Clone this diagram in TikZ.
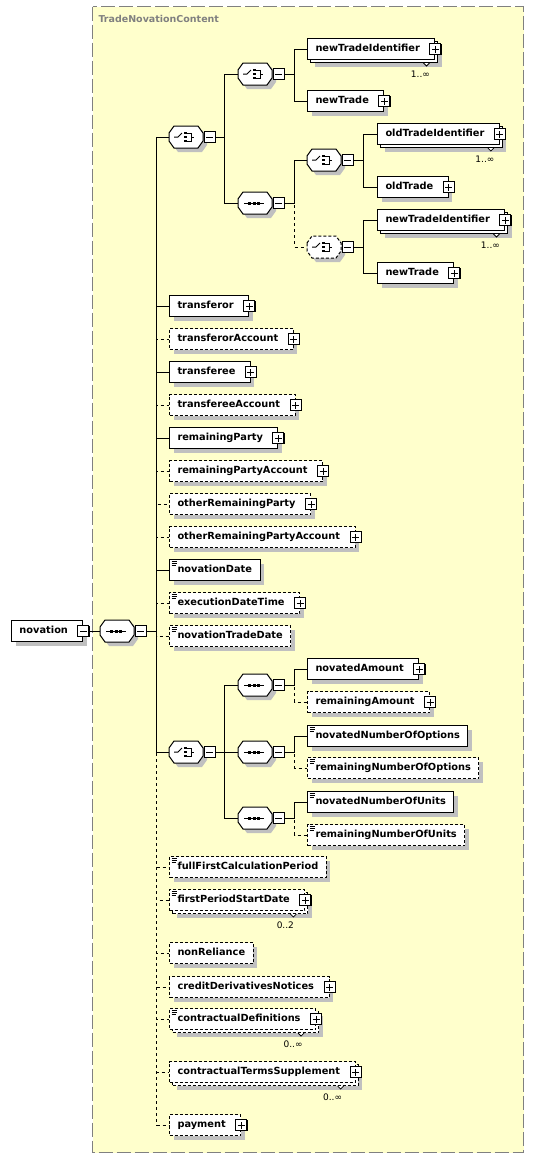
\documentclass[tikz,border=0pt]{standalone}
\usepackage{fontspec}
\setmainfont{DejaVu Sans}
\usepackage{tikz}
\usetikzlibrary{shadows}
\definecolor{schemayellow}{RGB}{255,255,204}
\definecolor{shadowgray}{RGB}{192,192,192}
\definecolor{framegray}{RGB}{128,128,128}

\tikzset{
  elbase/.style={draw, fill=white, anchor=west, minimum height=21pt, inner xsep=8pt, inner ysep=0pt,
    text height=7.5pt, text depth=2pt, font=\bfseries\fontsize{9.8}{12}\selectfont},
  el/.style={elbase, drop shadow={shadow xshift=4pt, shadow yshift=-4pt, fill=shadowgray, opacity=1}},
  multi/.style={elbase, drop shadow={shadow xshift=7pt, shadow yshift=-7pt, fill=shadowgray, opacity=1},
    copy shadow={shadow xshift=3pt, shadow yshift=-3pt, fill=white, draw=black}},
  opt/.style={dash pattern=on 3pt off 2pt},
  simple/.style={path picture={
    \draw[solid, line width=0.6pt] ([xshift=2pt,yshift=-2pt]path picture bounding box.north west) -- ++(5pt,0pt)
      ([xshift=2pt,yshift=-3.8pt]path picture bounding box.north west) -- ++(5pt,0pt)
      ([xshift=2pt,yshift=-5.6pt]path picture bounding box.north west) -- ++(4pt,0pt);}},
  pbox/.style={draw, fill=white, solid, minimum size=11pt, inner sep=0pt,
    drop shadow={shadow xshift=0.8pt, shadow yshift=-0.8pt, fill=black, opacity=1}},
  plus/.style={pbox, path picture={
    \draw[line width=1pt] ([xshift=2pt]path picture bounding box.west) -- ([xshift=-2pt]path picture bounding box.east)
      ([yshift=2pt]path picture bounding box.south) -- ([yshift=-2pt]path picture bounding box.north);}},
  minus/.style={pbox, path picture={
    \draw[line width=1pt] ([xshift=2pt]path picture bounding box.west) -- ([xshift=-2pt]path picture bounding box.east);}},
  compbox/.style={minimum width=34pt, minimum height=22pt, inner sep=0pt},
  seqicon/.style={path picture={
    \coordinate (pp) at (path picture bounding box.center);
    \draw[line width=1pt] ([xshift=-11pt]pp) -- ([xshift=9pt]pp);
    \foreach \d in {-5.5,-1,3.5} \fill ([xshift=\d pt-1.5pt,yshift=-1.5pt]pp) rectangle ([xshift=\d pt+1.5pt,yshift=1.5pt]pp);}},
  choiceicon/.style={path picture={
    \coordinate (pp) at (path picture bounding box.center);
    \draw[line width=1pt] ([xshift=-12pt]pp) -- ([xshift=-8pt]pp) -- ([xshift=-4pt,yshift=4pt]pp);
    \foreach \d in {-4,0,4} \fill ([xshift=-2.5pt,yshift=\d pt-1.4pt]pp) rectangle ([xshift=0.5pt,yshift=\d pt+1.4pt]pp);
    \draw[line width=1pt] ([xshift=0.5pt,yshift=4pt]pp) -- ([xshift=5pt,yshift=4pt]pp)
      -- ([xshift=5pt,yshift=-4pt]pp) -- ([xshift=0.5pt,yshift=-4pt]pp) ([xshift=5pt]pp) -- ([xshift=8pt]pp);}},
  mult/.style={font=\fontsize{9}{10}\selectfont, inner sep=0pt},
  optline/.style={dash pattern=on 3pt off 3pt},
  ttl/.style={text=framegray, font=\bfseries\fontsize{9.5}{11}\selectfont, anchor=base west, inner sep=0pt}
}
\newcommand{\gap}{\hspace{7pt}\mbox{}}
\newcommand{\plusbox}[1]{\node[plus] (#1-p) at (#1.east) {};}
\newcommand{\notch}[2]{\draw[fill=white, solid, line width=0.8pt] ([xshift=#2, yshift=-3pt]#1.south east) -- ++(3pt,-3pt) -- ++(3pt,3pt);}
\newcommand{\octpath}[2]{(#1-17,#2-4) -- (#1-12,#2-11) -- (#1+12,#2-11) -- (#1+17,#2-4)
  -- (#1+17,#2+4) -- (#1+12,#2+11) -- (#1-12,#2+11) -- (#1-17,#2+4) -- cycle}
% compositor: octagon, icon node and its minus box
\newcommand{\compositor}[5][]{%
  \fill[shadowgray, shift={(4,4)}] \octpath{#3}{#4};
  \draw[fill=white, #1] \octpath{#3}{#4};
  \node[compbox, #5] (#2) at (#3,#4) {};
  \node[minus, anchor=west] (#2-m) at (#2.east) {};}

\begin{document}
\begin{tikzpicture}[x=1pt, y=-1pt, line width=1pt]
\useasboundingbox (0,0) rectangle (534,1157);
\fill[white] (0,0) rectangle (534,1157);
\draw[framegray, fill=schemayellow, dash pattern=on 14pt off 4pt] (92.5,6.5) rectangle (523.5,1152.5);
\node[ttl] (ttl) at (98,22) {TradeNovationContent};

% root element and its sequence
\node[el] (nov) at (11,631) {novation\gap};
\node[minus] (nov-m) at (nov.east) {};
\compositor{seqm}{117}{631}{seqicon}

% new / old trade branch
\compositor{tc}{186}{137}{choiceicon}
\compositor{ch1}{255}{74}{choiceicon}
\node[multi] (nti1) at (307,49) {newTradeIdentifier\gap};
\notch{nti1}{-12pt}
\plusbox{nti1}
\node[mult] (nti1-n) at ([xshift=-15pt,yshift=-14pt]nti1.south east) {1..∞};
\node[el] (nt1) at (307,101) {newTrade\gap};
\plusbox{nt1}
\compositor{sq1}{255}{203}{seqicon}
\compositor{ch2}{324}{160}{choiceicon}
\node[multi] (oti) at (377,134) {oldTradeIdentifier\gap};
\notch{oti}{-12pt}
\plusbox{oti}
\node[mult] (oti-n) at ([xshift=-15pt,yshift=-14pt]oti.south east) {1..∞};
\node[el] (ot) at (377,187) {oldTrade\gap};
\plusbox{ot}
\compositor[opt]{ch3}{324}{247}{choiceicon}
\node[multi] (nti2) at (377,220) {newTradeIdentifier\gap};
\notch{nti2}{-12pt}
\plusbox{nti2}
\node[mult] (nti2-n) at ([xshift=-15pt,yshift=-14pt]nti2.south east) {1..∞};
\node[el] (nt2) at (377,273) {newTrade\gap};
\plusbox{nt2}

% parties
\node[el] (tror) at (169,306) {transferor\gap};
\plusbox{tror}
\node[el, opt] (trora) at (169,339) {transferorAccount\gap};
\plusbox{trora}
\node[el] (tree) at (169,372) {transferee\gap};
\plusbox{tree}
\node[el, opt] (treea) at (169,405) {transfereeAccount\gap};
\plusbox{treea}
\node[el] (rp) at (169,438) {remainingParty\gap};
\plusbox{rp}
\node[el, opt] (rpa) at (169,471) {remainingPartyAccount\gap};
\plusbox{rpa}
\node[el, opt] (orp) at (169,504) {otherRemainingParty\gap};
\plusbox{orp}
\node[el, opt] (orpa) at (169,537) {otherRemainingPartyAccount\gap};
\plusbox{orpa}

% dates
\node[el, simple] (novd) at (169,570) {novationDate};
\node[el, opt, simple] (exdt) at (169,603) {executionDateTime\gap};
\plusbox{exdt}
\node[el, opt, simple] (ntd) at (169,636) {novationTradeDate};

% amounts, options, units
\compositor{ch4}{186}{752}{choiceicon}
\compositor{sq2}{255}{685}{seqicon}
\node[el] (nam) at (307,669) {novatedAmount\gap};
\plusbox{nam}
\node[el, opt] (ram) at (307,702) {remainingAmount\gap};
\plusbox{ram}
\compositor{sq3}{255}{752}{seqicon}
\node[el, simple] (nno) at (307,736) {novatedNumberOfOptions};
\node[el, opt, simple] (rno) at (307,768) {remainingNumberOfOptions};
\compositor{sq4}{255}{818}{seqicon}
\node[el, simple] (nnu) at (307,802) {novatedNumberOfUnits};
\node[el, opt, simple] (rnu) at (307,835) {remainingNumberOfUnits};

% remaining optional elements
\node[el, opt, simple] (ffcp) at (169,867) {fullFirstCalculationPeriod};
\node[multi, opt, simple] (fpsd) at (169,900) {firstPeriodStartDate\gap};
\notch{fpsd}{-15pt}
\plusbox{fpsd}
\node[mult] (fpsd-n) at ([xshift=-20pt,yshift=-14pt]fpsd.south east) {0..2};
\node[el, opt] (nonr) at (169,953) {nonReliance};
\node[el, opt] (cdn) at (169,987) {creditDerivativesNotices\gap};
\plusbox{cdn}
\node[multi, opt, simple] (cdef) at (169,1019) {contractualDefinitions\gap};
\notch{cdef}{-18pt}
\plusbox{cdef}
\node[mult] (cdef-n) at ([xshift=-23pt,yshift=-14pt]cdef.south east) {0..∞};
\node[multi, opt] (cts) at (169,1072) {contractualTermsSupplement\gap};
\notch{cts}{-18pt}
\plusbox{cts}
\node[mult] (cts-n) at ([xshift=-23pt,yshift=-14pt]cts.south east) {0..∞};
\node[el, opt] (pay) at (169,1125) {payment\gap};
\plusbox{pay}

% connectors, optional ones first
\foreach \c in {trora,treea,rpa,orp,orpa,exdt,ntd,ffcp,fpsd,nonr,cdn,cdef,cts,pay}
  \draw[optline] (seqm-m.east) -- ++(10,0) |- (\c.west);
\draw[optline] (sq1-m.east) -- ++(10,0) |- (ch3.west);
\draw[optline] (sq2-m.east) -- ++(10,0) |- (ram.west);
\draw[optline] (sq3-m.east) -- ++(10,0) |- (rno.west);
\draw[optline] (sq4-m.east) -- ++(10,0) |- (rnu.west);
\draw (nov-m.east) -- (seqm.west);
\foreach \c in {tc,tror,tree,rp,novd,ch4}
  \draw (seqm-m.east) -- ++(10,0) |- (\c.west);
\foreach \c in {ch1,sq1}
  \draw (tc-m.east) -- ++(9,0) |- (\c.west);
\foreach \c in {nti1,nt1}
  \draw (ch1-m.east) -- ++(10,0) |- (\c.west);
\draw (sq1-m.east) -- ++(10,0) |- (ch2.west);
\foreach \c in {oti,ot}
  \draw (ch2-m.east) -- ++(10,0) |- (\c.west);
\foreach \c in {nti2,nt2}
  \draw (ch3-m.east) -- ++(10,0) |- (\c.west);
\foreach \c in {sq2,sq3,sq4}
  \draw (ch4-m.east) -- ++(9,0) |- (\c.west);
\draw (sq2-m.east) -- ++(10,0) |- (nam.west);
\draw (sq3-m.east) -- ++(10,0) |- (nno.west);
\draw (sq4-m.east) -- ++(10,0) |- (nnu.west);
\end{tikzpicture}
\end{document}
